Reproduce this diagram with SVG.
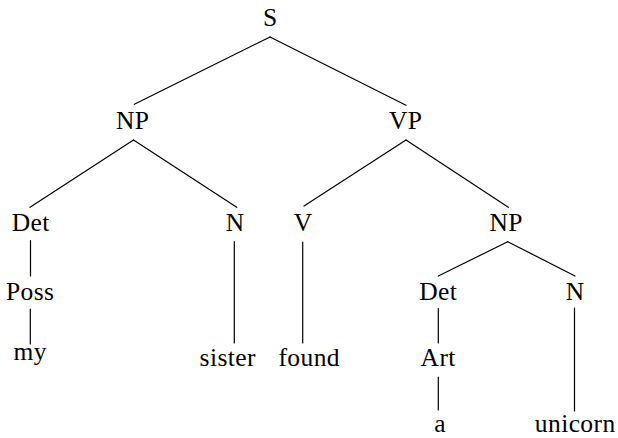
<svg xmlns="http://www.w3.org/2000/svg" width="618" height="438" viewBox="0 0 618 438">
<style>
text{font-family:"Liberation Serif","Times New Roman",serif;font-size:25.5px;letter-spacing:0.4px;fill:#000;text-anchor:middle}
#edges line{stroke:#000;stroke-width:1.2;stroke-linecap:round}
</style>
<rect width="618" height="438" fill="#fff"/>
<g id="edges">
<line x1="270" y1="37" x2="134.3" y2="104.3"/>
<line x1="270" y1="37" x2="406" y2="105.3"/>
<line x1="133.5" y1="140" x2="30" y2="207.3"/>
<line x1="133.5" y1="140" x2="236.7" y2="207.3"/>
<line x1="406" y1="140" x2="304" y2="206"/>
<line x1="406" y1="140" x2="508.3" y2="207.3"/>
<line x1="30.5" y1="240.7" x2="30.5" y2="276"/>
<line x1="30.3" y1="309" x2="30.3" y2="344"/>
<line x1="234.3" y1="241.7" x2="234.3" y2="343"/>
<line x1="302.7" y1="242" x2="302.7" y2="343"/>
<line x1="507.7" y1="241.7" x2="438.3" y2="276"/>
<line x1="507.7" y1="241.7" x2="575" y2="276"/>
<line x1="438.3" y1="308.5" x2="438.3" y2="343"/>
<line x1="438.3" y1="377" x2="438.3" y2="410"/>
<line x1="574.5" y1="308" x2="574.5" y2="411"/>
</g>
<g id="S"><text x="270.2" y="26">S</text></g>
<g id="NP1"><text x="132.7" y="128.5">NP</text></g>
<g id="VP"><text x="405.7" y="128.5">VP</text></g>
<g id="Det1"><text x="30.7" y="231">Det</text></g>
<g id="N1"><text x="235.2" y="231">N</text></g>
<g id="V"><text x="303.2" y="231">V</text></g>
<g id="NP2"><text x="506.2" y="231">NP</text></g>
<g id="Poss"><text x="30.2" y="299.5">Poss</text></g>
<g id="Det2"><text x="438.2" y="299.5">Det</text></g>
<g id="N2"><text x="575.2" y="299.5">N</text></g>
<g id="my"><text x="30.2" y="360">my</text></g>
<g id="sister"><text x="227.7" y="366">sister</text></g>
<g id="found"><text x="309.2" y="366">found</text></g>
<g id="Art"><text x="438.2" y="365.5">Art</text></g>
<g id="a"><text x="440.2" y="432">a</text></g>
<g id="unicorn"><text x="575.2" y="432">unicorn</text></g>
</svg>
